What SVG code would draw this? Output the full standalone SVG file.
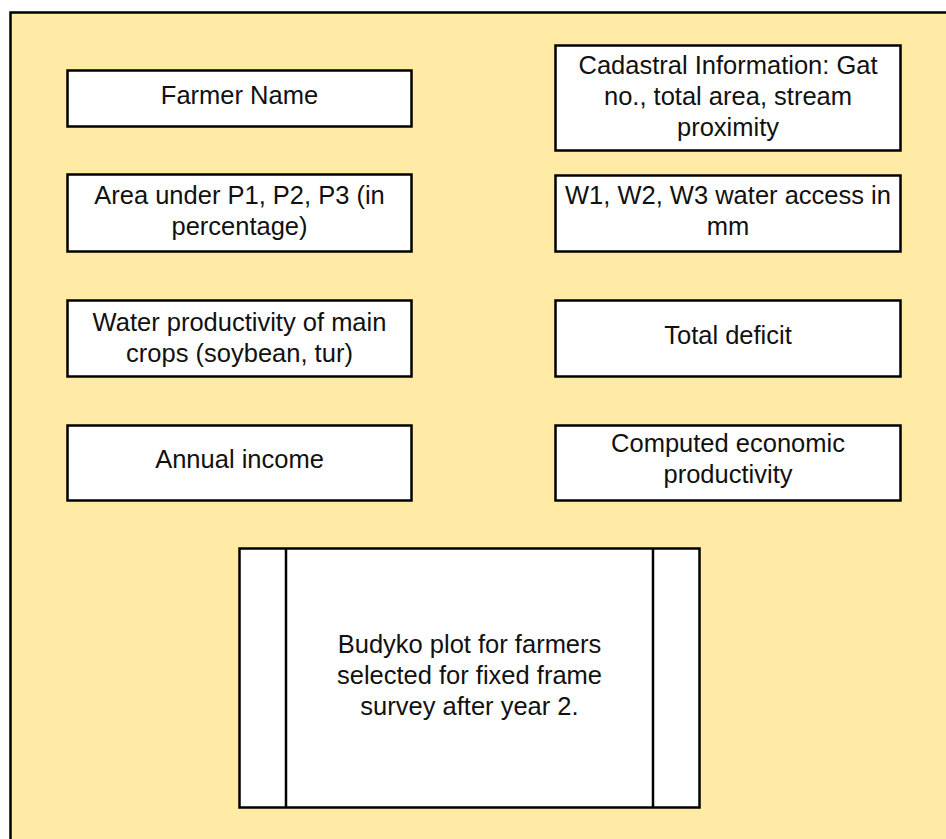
<svg xmlns="http://www.w3.org/2000/svg" width="946" height="839" viewBox="0 0 946 839">
<style>
.bg{fill:#FFEAA6;stroke:#000;stroke-width:2.5}
.box{fill:#fff;stroke:#000;stroke-width:2.5}
.ln{stroke:#000;stroke-width:2.5}
text{font-family:"Liberation Sans",Arial,sans-serif;font-size:25.5px;fill:#111;text-anchor:middle}
</style>
<rect class="bg" x="10.5" y="12.5" width="950" height="840"/>
<g id="farmer-name"><rect class="box" x="67.5" y="70.5" width="344" height="56"/><text x="239.5" y="103.5">Farmer Name</text></g>
<g id="cadastral"><rect class="box" x="555.5" y="45.5" width="345" height="105"/><text x="728" y="74">Cadastral Information: Gat</text><text x="728" y="105">no., total area, stream</text><text x="728" y="136">proximity</text></g>
<g id="area"><rect class="box" x="67.5" y="174.5" width="344" height="77"/><text x="239.5" y="204">Area under P1, P2, P3 (in</text><text x="239.5" y="235">percentage)</text></g>
<g id="water-access"><rect class="box" x="555.5" y="175.5" width="345" height="76"/><text x="728" y="203.5">W1, W2, W3 water access in</text><text x="728" y="234.5">mm</text></g>
<g id="water-productivity"><rect class="box" x="67.5" y="300.5" width="344" height="76"/><text x="239.5" y="331">Water productivity of main</text><text x="239.5" y="362">crops (soybean, tur)</text></g>
<g id="total-deficit"><rect class="box" x="555.5" y="300.5" width="345" height="76"/><text x="728" y="343.5">Total deficit</text></g>
<g id="annual-income"><rect class="box" x="67.5" y="425.5" width="344" height="75"/><text x="239.5" y="468">Annual income</text></g>
<g id="economic-productivity"><rect class="box" x="555.5" y="425.5" width="345" height="75"/><text x="728" y="451.5">Computed economic</text><text x="728" y="482.5">productivity</text></g>
<g id="budyko"><rect class="box" x="239.5" y="548.5" width="460" height="259"/><line class="ln" x1="286" y1="548.5" x2="286" y2="807.5"/><line class="ln" x1="653" y1="548.5" x2="653" y2="807.5"/><text x="469.5" y="652.5">Budyko plot for farmers</text><text x="469.5" y="683.5">selected for fixed frame</text><text x="469.5" y="714.5">survey after year 2.</text></g>
<g id="connectors"/>
</svg>
